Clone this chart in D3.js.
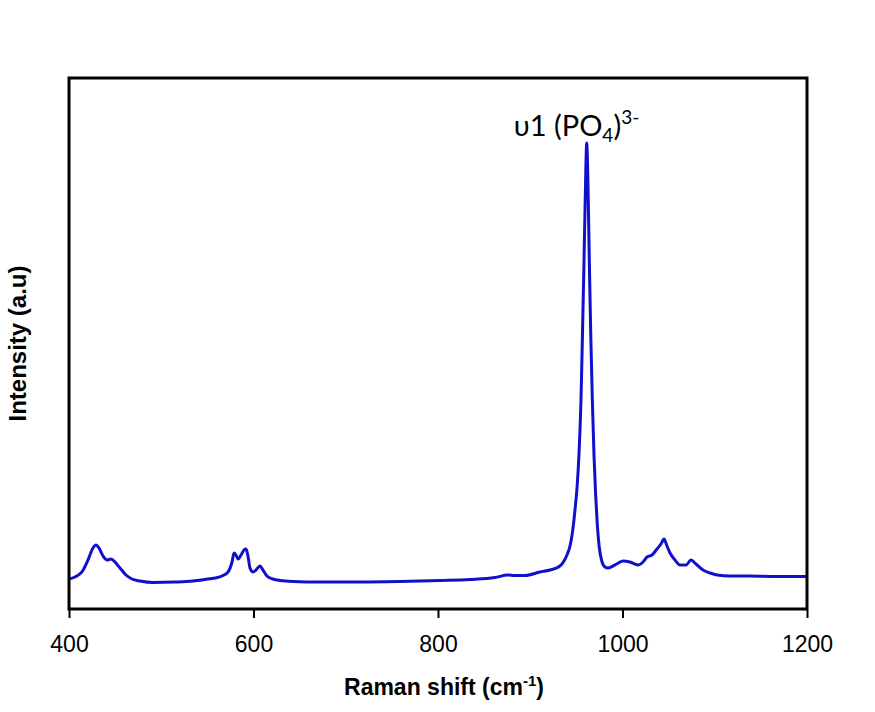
<!DOCTYPE html>
<html>
<head>
<meta charset="utf-8">
<script src="https://cdn.jsdelivr.net/npm/d3@7"></script>
<style>
  html, body { margin: 0; padding: 0; background: #fff; }
  svg { display: block; }
</style>
</head>
<body>
<svg id="chart" width="875" height="712"></svg>
<script>
// Raman shift (cm-1)
const shift = [400, 406.5, 414, 420.6, 426, 429.3, 432.5, 436.9, 441.2, 445.5, 449.9, 455.3, 461.8, 468.3, 477, 491.1, 514.9, 534.4, 547.4, 558.3, 565.9, 572.4, 576.7, 578.9, 581, 583.2, 586.5, 589.7, 591.9, 594, 596.2, 599.5, 602.7, 607, 610.3, 614.6, 621.1, 628.7, 642.8, 672.1, 715.4, 758.8, 802.2, 834.7, 861.8, 875.9, 883.5, 894.3, 910.6, 921.4, 932.3, 936.6, 939.8, 943.1, 945.8, 948.5, 950.7, 952.8, 955.0, 956.6, 958.3, 959.9, 961.2, 962.6, 964.0, 965.6, 967.3, 969.1, 970.9, 972.7, 974.9, 977.5, 981, 984.3, 991.9, 1000.6, 1008.1, 1016.8, 1022.3, 1026.6, 1032, 1037.4, 1041.7, 1045, 1048.2, 1051.5, 1056.9, 1062.4, 1068.8, 1074.3, 1079.7, 1087.3, 1094.9, 1102.5, 1116.5, 1138.2, 1165.3, 1200];
// Intensity (a.u.)
const intensity = [56.5, 60.3, 69.7, 92.3, 114.9, 120.5, 114.9, 99.8, 92.3, 94.2, 88.5, 77.2, 64, 56.5, 52.7, 49.9, 50.8, 52.7, 55.6, 58.4, 62.1, 69.7, 88.5, 105.5, 101.7, 94.2, 101.7, 111.1, 113, 99.8, 77.2, 69.7, 73.4, 81, 73.4, 62.1, 56.5, 53.7, 51.8, 50.8, 50.8, 51.8, 53.7, 55.6, 59.3, 64, 63.1, 63.1, 69.7, 73.4, 81.0, 90.4, 101.7, 118.6, 145.0, 186.4, 227.9, 290.0, 393.6, 516.0, 657.2, 798.5, 877.6, 798.5, 657.2, 516.0, 393.6, 290.0, 214.7, 158.2, 114.9, 90.4, 79.1, 77.2, 82.9, 90.4, 88.5, 82.9, 88.5, 97.9, 101.7, 113, 122.4, 131.8, 118.6, 105.5, 92.3, 82.9, 82.9, 92.3, 84.7, 73.4, 67.8, 64, 62.1, 62.1, 61.2, 61.2];
const xTicks = [400, 600, 800, 1000, 1200];
const xTitle = "Raman shift (cm";
const xTitleSup = "-1";
const yTitle = "Intensity (a.u)";
const peakLabel = { x: 961.2, y: 877.6 };

const svg = d3.select("#chart");
const L = 69, R = 807, T = 78, B = 609;

const x = d3.scaleLinear().domain([400, 1200]).range([L, R]);
const y = d3.scaleLinear().domain([0, 1000]).range([B, T]);

const data = shift.map((s, i) => ({ s, v: intensity[i] }));

// spectrum
const line = d3.line()
  .x(d => x(d.s))
  .y(d => y(d.v))
  .curve(d3.curveMonotoneX);

svg.append("path")
  .datum(data)
  .attr("d", line)
  .attr("fill", "none")
  .attr("stroke", "#1010cc")
  .attr("stroke-width", 3)
  .attr("stroke-linejoin", "round");

// frame
svg.append("rect")
  .attr("x", L).attr("y", T)
  .attr("width", R - L).attr("height", B - T)
  .attr("fill", "none")
  .attr("stroke", "#000")
  .attr("stroke-width", 3);

// x axis
const xAxis = d3.axisBottom(x)
  .tickValues(xTicks)
  .tickSize(8)
  .tickPadding(18)
  .tickFormat(d3.format("d"));

const gx = svg.append("g")
  .attr("transform", `translate(0,${B + 1})`)
  .call(xAxis);
gx.select(".domain").remove();
gx.selectAll(".tick line").attr("stroke", "#000").attr("stroke-width", 2);
gx.selectAll(".tick text")
  .attr("fill", "#000")
  .attr("font-family", "'Liberation Sans', Arial, sans-serif")
  .attr("font-size", 23);

// x title
const xt = svg.append("text")
  .attr("x", (L + R) / 2 + 6)
  .attr("y", 695)
  .attr("text-anchor", "middle")
  .attr("font-family", "'Liberation Sans', Arial, sans-serif")
  .attr("font-weight", "bold")
  .attr("font-size", 23)
  .attr("fill", "#000");
xt.append("tspan").text(xTitle);
xt.append("tspan").attr("font-size", 15).attr("dy", -9).text(xTitleSup);
xt.append("tspan").attr("dy", 9).text(")");

// y title
svg.append("text")
  .attr("transform", `translate(26,${(T + B) / 2}) rotate(-90)`)
  .attr("text-anchor", "middle")
  .attr("font-family", "'Liberation Sans', Arial, sans-serif")
  .attr("font-weight", "bold")
  .attr("font-size", 24)
  .attr("fill", "#000")
  .text(yTitle);

// peak annotation
const ann = svg.append("text")
  .attr("x", x(peakLabel.x) - 73)
  .attr("y", 136)
  .attr("font-family", "Lato, 'Open Sans', sans-serif")
  .attr("font-size", 29)
  .attr("fill", "#000");
ann.append("tspan").text("\u03C51 (PO");
ann.append("tspan").attr("font-size", 19).attr("dy", 6).text("4");
ann.append("tspan").attr("dy", -6).text(")");
ann.append("tspan").attr("font-size", 19).attr("dy", -12).text("3-");
</script>
</body>
</html>
